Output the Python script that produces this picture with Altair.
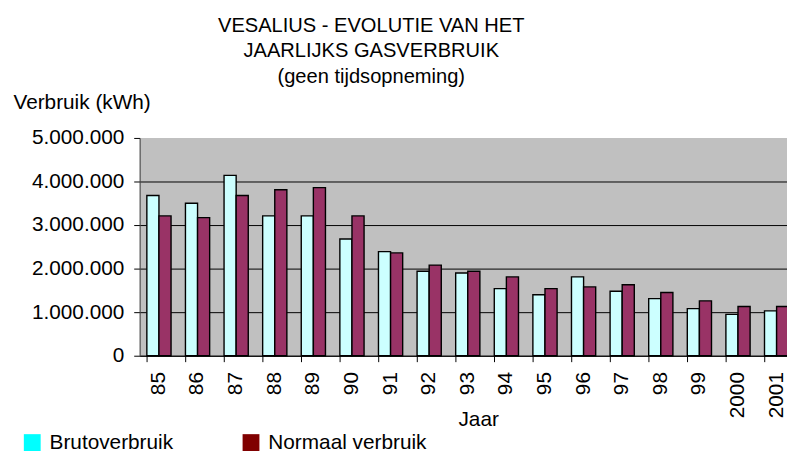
import altair as alt
import pandas as pd

years = ["85", "86", "87", "88", "89", "90", "91", "92", "93", "94", "95", "96", "97", "98", "99", "2000", "2001"]
bruto = [3680000, 3500000, 4140000, 3210000, 3210000, 2680000, 2390000, 1940000, 1900000,
         1540000, 1400000, 1810000, 1480000, 1310000, 1080000, 950000, 1030000]
normaal = [3210000, 3170000, 3680000, 3810000, 3860000, 3210000, 2360000, 2080000, 1940000,
           1810000, 1540000, 1580000, 1630000, 1450000, 1260000, 1130000, 1130000]
series = ["Brutoverbruik", "Normaal verbruik"]
bar_colors = ["#CCFFFF", "#993366"]
legend_colors = ["#00FFFF", "#800000"]
y_ticks = [0, 1000000, 2000000, 3000000, 4000000, 5000000]
title_lines = ["VESALIUS - EVOLUTIE VAN HET", "JAARLIJKS GASVERBRUIK", "(geen tijdsopneming)"]

rows = []
for i, yr in enumerate(years):
    rows.append({"jaar": yr, "serie": series[0], "waarde": bruto[i], "kleur": bar_colors[0]})
    rows.append({"jaar": yr, "serie": series[1], "waarde": normaal[i], "kleur": bar_colors[1]})
df = pd.DataFrame(rows)

FONT = "Liberation Sans"

x_enc = alt.X(
    "jaar:N", sort=years,
    scale=alt.Scale(range=[0, 663], paddingInner=0.373, paddingOuter=0.1865),
    axis=alt.Axis(
        title="Jaar", titleFont=FONT, titleFontSize=21, titleFontWeight="normal",
        titleColor="black", titleX=342, titleY=71, titleAlign="center",
        titleBaseline="alphabetic",
        labelAngle=-90, labelFont=FONT, labelFontSize=21, labelColor="black",
        labelPadding=10, bandPosition=0, tickSize=6, tickColor="black",
        domainColor="black", grid=False,
    ),
)
y_enc = alt.Y(
    "waarde:Q",
    scale=alt.Scale(domain=[0, 5000000], nice=False),
    axis=alt.Axis(
        values=y_ticks,
        labelExpr="replace(replace(format(datum.value, ','), ',', '.'), ',', '.')",
        labelFont=FONT, labelFontSize=21, labelColor="black", labelPadding=10,
        tickSize=6, tickColor="black", domainColor="#404040",
        grid=True, gridColor="black", gridWidth=1,
        gridOpacity={"condition": {"test": "datum.value >= 5000000", "value": 0}, "value": 1},
        title="Verbruik (kWh)", titleFont=FONT, titleFontSize=21, titleFontWeight="normal",
        titleColor="black", titleAngle=0, titleAlign="left", titleBaseline="alphabetic",
        titleX=-128, titleY=-30,
    ),
)

bars = alt.Chart(df).mark_bar(stroke="black", strokeWidth=1.4).encode(
    x=x_enc,
    xOffset=alt.XOffset("serie:N", sort=series, scale=alt.Scale(paddingInner=0, paddingOuter=0)),
    y=y_enc,
    fill=alt.Fill("kleur:N", scale=None),
)

legend_layer = alt.Chart(df).mark_bar().encode(
    x=alt.X("jaar:N", sort=years),
    xOffset=alt.XOffset("serie:N", sort=series),
    y=alt.datum(0),
    color=alt.Color(
        "serie:N",
        scale=alt.Scale(domain=series, range=legend_colors),
        legend=alt.Legend(
            title=None, orient="none", legendX=-119, legendY=297, direction="horizontal",
            symbolType="square", symbolSize=289, symbolStrokeWidth=0,
            labelFont=FONT, labelFontSize=21, labelColor="black", labelOffset=7,
            columnPadding=68, padding=0, labelLimit=400,
        ),
    ),
)

chart = alt.layer(bars, legend_layer).properties(
    width=654,
    height=220,
    title=alt.TitleParams(
        text=title_lines, font=FONT, fontSize=20.3, fontWeight="normal", color="black",
        anchor="middle", dx=-93, lineHeight=26, offset=4,
    ),
    autosize=alt.AutoSizeParams(type="none"),
    padding={"left": 133, "top": 129, "right": 0, "bottom": 96},
).configure_view(fill="#C0C0C0", stroke=None)

chart.save("out.html", embed_options={"renderer": "svg", "actions": False})
